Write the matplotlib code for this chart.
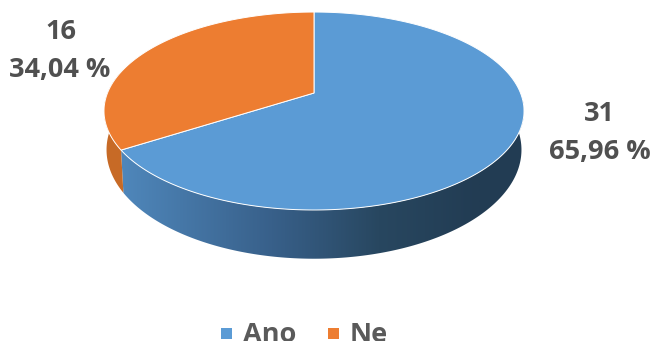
# 3D looking pie (Ano / Ne) drawn from the two counts

import numpy as np
import matplotlib
matplotlib.use("Agg")
import matplotlib.pyplot as plt
from matplotlib.colors import LinearSegmentedColormap
from matplotlib.patches import Polygon, Rectangle

categories = ["Ano", "Ne"]
counts = [31, 16]
percent_labels = ["65,96 %", "34,04 %"]

plt.rcParams['font.family'] = ['Open Sans', 'DejaVu Sans']

TEXT_COLOR = '#505050'
BLUE = '#5b9bd5'
ORANGE = '#ed7d31'


# circle seen in perspective, angle in degrees clockwise from the top
def rim(_angles, _bottom=False):
    _rad = np.radians(_angles)
    u = np.sin(_rad)
    v = np.cos(_rad)
    depth = 1 + 0.182 * v
    if _bottom:
        return np.column_stack((314 + 204 * u / depth, 130 - 105.3 * v / depth))
    return np.column_stack((314 + 206.5 * u / depth, 93 - 95.7 * v / depth))


def side_polygon(_start, _end):
    _angles = np.linspace(_start, _end, 200)
    return np.vstack((rim(_angles), rim(_angles[::-1], True)))


fig = plt.figure(figsize=(6.51, 3.41), dpi=100)
ax = fig.add_axes([0, 0, 1, 1])
ax.axis('off')

split = 360 * counts[0] / sum(counts)

# sides first, the top faces hide their upper edge
blue_side = Polygon(side_polygon(80, split), closed=True, facecolor='none', edgecolor='none')
ax.add_patch(blue_side)
side_cmap = LinearSegmentedColormap.from_list('side', [(0, '#4f87bb'), (0.42, '#38608a'),
                                                       (0.72, '#284760'), (1, '#223c53')])
grad = ax.imshow(np.linspace(0, 1, 256).reshape(1, -1), extent=[121, 480, 265, 100],
                 cmap=side_cmap, aspect='auto', zorder=1)
grad.set_clip_path(blue_side)
# past the end of the gradient the side stays dark
dark = ax.imshow(np.zeros((1, 1)), extent=[480, 530, 265, 100], cmap=side_cmap,
                 vmin=-1, vmax=0, aspect='auto', zorder=1)
dark.set_clip_path(blue_side)
ax.add_patch(Polygon(side_polygon(split, 285), closed=True, facecolor='#c76a26', edgecolor='none', zorder=1))

# top faces
for _start, _end, _color in [(0, split, BLUE), (split, 360, ORANGE)]:
    _points = np.vstack(([[314, 93]], rim(np.linspace(_start, _end, 300))))
    ax.add_patch(Polygon(_points, closed=True, facecolor=_color, edgecolor='white', linewidth=0.7, zorder=2))

# data labels
ax.text(599, 114, str(counts[0]), ha='center', va='center', fontsize=19.5, fontweight='bold', color=TEXT_COLOR)
ax.text(599.5, 152, percent_labels[0], ha='center', va='center', fontsize=19.5, fontweight='bold', color=TEXT_COLOR)
ax.text(61, 32, str(counts[1]), ha='center', va='center', fontsize=19.5, fontweight='bold', color=TEXT_COLOR)
ax.text(60, 70, percent_labels[1], ha='center', va='center', fontsize=19.5, fontweight='bold', color=TEXT_COLOR)

# legend, cut by the bottom of the picture like the original
for _x, _tx, _name, _color in [(221, 243, categories[0], BLUE), (328, 350, categories[1], ORANGE)]:
    ax.add_patch(Rectangle((_x, 328), 11, 11, facecolor=_color, edgecolor='none'))
    ax.text(_tx, 342, _name, ha='left', va='baseline', fontsize=19.5, fontweight='bold', color='#5a5a5a')

ax.set_xlim(0, 651)
ax.set_ylim(341, 0)

fig.savefig('out.png', dpi=100)
